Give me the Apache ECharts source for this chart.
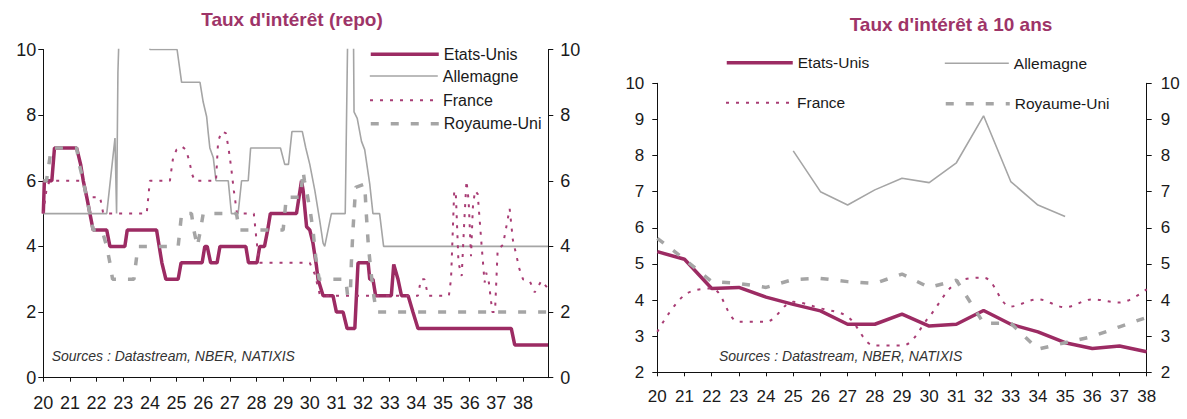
<!DOCTYPE html>
<html><head><meta charset="utf-8">
<script src="https://cdn.jsdelivr.net/npm/echarts@6/dist/echarts.min.js"></script>
<style>html,body{margin:0;padding:0;background:#fff}#c{width:1187px;height:419px}</style>
</head><body><div id="c"></div>
<script>
// ---------- DATA ----------
// Left chart: policy rates (repo), breakpoints [year (20 = 1920), rate %]
const repoUS = [[20.0,5.0],[20.04,6.0],[20.32,6.0],[20.42,7.0],[21.25,7.0],[21.4,6.5],[21.5,6.0],[21.63,5.5],[21.75,5.0],[21.87,4.5],[22.38,4.5],[22.5,4.0],[23.06,4.0],[23.15,4.5],[24.25,4.5],[24.35,4.0],[24.45,3.5],[24.6,3.0],[25.06,3.0],[25.17,3.5],[25.96,3.5],[26.06,4.0],[26.15,4.0],[26.28,3.5],[26.52,3.5],[26.63,4.0],[27.6,4.0],[27.7,3.5],[28.02,3.5],[28.12,4.0],[28.3,4.0],[28.42,4.5],[28.52,5.0],[29.5,5.0],[29.69,6.0],[29.75,5.7],[29.88,4.6],[30.0,4.5],[30.12,4.1],[30.25,3.4],[30.31,3.0],[30.5,2.5],[30.87,2.5],[31.0,2.0],[31.25,2.0],[31.4,1.5],[31.69,1.5],[31.81,3.5],[32.19,3.5],[32.25,3.0],[32.37,3.0],[32.47,2.5],[33.06,2.5],[33.15,3.45],[33.31,3.0],[33.44,2.5],[33.69,2.5],[33.87,2.0],[34.06,1.5],[37.56,1.5],[37.69,1.0],[38.94,1.0]];
const repoDE = [[20.0,5.0],[22.38,5.0],[22.69,7.3],[22.75,5.0],[22.8,9.3],[22.9,12],[23.2,40],[23.8,40],[23.95,12],[24.0,10],[25.02,10],[25.19,9],[25.88,9],[26.0,8.4],[26.13,7.95],[26.19,7.45],[26.25,7.0],[26.38,6.7],[26.48,6.0],[26.94,6.0],[27.06,5.0],[27.31,5.0],[27.44,6.0],[27.69,6.0],[27.78,7.0],[28.9,7.0],[29.06,6.5],[29.2,6.5],[29.33,7.5],[29.72,7.5],[29.85,7.0],[30.0,6.5],[30.19,5.7],[30.37,4.8],[30.5,4.1],[30.56,4.0],[30.81,5.0],[31.33,5.0],[31.5,15],[31.6,15],[31.66,8.1],[31.78,7.9],[31.94,7.2],[32.06,6.95],[32.25,5.9],[32.37,5.0],[32.62,5.0],[32.77,4.0],[38.94,4.0]];
const repoFR = [[20.0,5.0],[20.13,5.8],[20.25,6.0],[21.5,6.0],[21.62,5.5],[22.13,5.5],[22.25,5.0],[23.88,5.0],[24.0,6.0],[24.75,6.0],[24.87,6.7],[25.0,6.95],[25.19,7.05],[25.35,6.95],[25.48,6.6],[25.58,6.2],[25.69,6.0],[26.48,6.0],[26.56,7.2],[26.69,7.5],[26.85,7.45],[26.95,7.0],[27.05,6.4],[27.15,5.7],[27.27,5.0],[27.9,5.0],[28.0,4.2],[28.1,3.5],[30.0,3.5],[30.19,3.15],[30.37,2.55],[30.45,2.5],[34.06,2.5],[34.17,3.0],[34.3,3.0],[34.44,2.5],[35.22,2.5],[35.3,3.0],[35.42,5.7],[35.48,5.6],[35.58,3.5],[35.7,3.1],[35.8,4.8],[35.88,6.0],[35.96,5.4],[36.05,3.7],[36.12,5.2],[36.2,5.7],[36.3,5.6],[36.45,4.0],[36.56,2.9],[36.62,3.2],[36.72,2.9],[36.85,2.0],[36.95,2.0],[37.05,3.9],[37.25,4.05],[37.5,5.15],[37.62,4.2],[37.87,3.3],[38.0,3.0],[38.25,2.95],[38.44,2.6],[38.69,2.95],[38.94,2.72]];
const repoUK = [[20.0,6.0],[20.12,6.0],[20.3,7.0],[21.25,7.0],[21.35,6.5],[21.5,6.0],[21.62,5.5],[21.75,5.0],[21.87,4.5],[22.2,4.5],[22.38,4.0],[22.5,3.5],[22.6,3.0],[23.4,3.0],[23.55,4.0],[25.06,4.0],[25.19,5.0],[25.56,5.0],[25.65,4.5],[25.78,4.0],[25.9,4.5],[26.0,5.0],[27.25,5.0],[27.35,4.5],[29.0,4.5],[29.12,5.5],[29.65,5.5],[29.75,6.3],[29.8,6.0],[29.9,5.6],[30.03,5.0],[30.12,4.5],[30.22,3.7],[30.35,3.0],[31.35,3.0],[31.42,2.5],[31.52,2.5],[31.56,3.5],[31.62,4.5],[31.72,5.8],[32.06,5.9],[32.12,5.0],[32.2,4.0],[32.3,3.2],[32.4,2.5],[32.5,2.0],[38.94,2.0]];

// Right chart: 10-year yields, annual
const years10 = [20,21,22,23,24,25,26,27,28,29,30,31,32,33,34,35,36,37,38];
const bondUS = [5.34,5.13,4.32,4.35,4.08,3.88,3.70,3.33,3.33,3.61,3.28,3.33,3.71,3.33,3.12,2.82,2.66,2.73,2.57];
const bondDE = [null,null,null,null,null,8.13,7.00,6.63,7.05,7.37,7.25,7.80,9.10,7.28,6.63,6.31,null,null,null];
const bondFR = [3.12,4.14,4.32,3.40,3.40,3.95,3.77,3.54,2.74,2.74,3.54,4.48,4.62,3.82,4.02,3.80,4.02,3.93,4.30];
const bondUK = [5.71,5.13,4.51,4.46,4.35,4.57,4.60,4.51,4.46,4.72,4.35,4.55,3.36,3.36,2.64,2.82,2.99,3.26,3.52];

const yTicksLeft = {min:0, max:10, interval:2};
const yTicksRight = {min:2, max:10, interval:1};

// ---------- STYLE ----------
const FONT = '"Liberation Sans", Arial, sans-serif';
const PURPLE = '#9c2b63';
const PURPLE_DOT = '#a83c74';
const GREY = '#a5a5a5';
const TXT = '#1a1a1a';
const AX = '#111';

const zip = (xs, vs) => xs.map((x,i)=>[x, vs[i]]).filter(p => p[1] != null);

const styles = {
  'Etats-Unis': {color:PURPLE, width:3.5, type:'solid'},
  'Allemagne': {color:GREY, width:1.6, type:'solid'},
  'France': {color:PURPLE_DOT, width:2, type:[3,7]},
  'Royaume-Uni': {color:GREY, width:3.5, type:[8,12]}
};

function mkSeries(name, data, xi, yi, extra) {
  const s = styles[name];
  return Object.assign({
    type:'line', name, data, xAxisIndex:xi, yAxisIndex:yi,
    symbol:'none', showSymbol:false, animation:false, silent:true,
    lineStyle:{color:s.color, width:s.width, type:s.type, cap:'butt'},
    itemStyle:{color:s.color}
  }, extra || {});
}

function yAxis(gi, pos, ticks, margin, fs) {
  return Object.assign({
    type:'value', gridIndex:gi, position:pos,
    axisLine:{show:true, onZero:false, lineStyle:{color:AX, width:1}},
    axisTick:{show:true, length:5, lineStyle:{color:AX, width:1}},
    axisLabel:{show:true, margin, fontSize:fs, color:TXT, fontFamily:FONT},
    splitLine:{show:false}
  }, ticks);
}

function legendItem(name, left, yc, w, fs) {
  const s = styles[name];
  return {
    data:[name], left, top: yc - 7, orient:'horizontal', itemWidth:w, itemHeight:14,
    padding:0, itemGap:0, selectedMode:false,
    textStyle:{fontSize:fs, color:TXT, fontFamily:FONT},
    itemStyle:{opacity:0, color:'rgba(0,0,0,0)', borderWidth:0},
    lineStyle:{width:s.width, type:s.type, color:s.color, opacity:1}
  };
}

const chart = echarts.init(document.getElementById('c'), null, {renderer:'svg'});
chart.setOption({
  backgroundColor:'#fff',
  animation:false,
  grid:[
    {left:43.3, top:49.5, width:505, height:328.2, outerBoundsMode:'none', containLabel:false},
    {left:657.3, top:83.3, width:489.4, height:289, outerBoundsMode:'none', containLabel:false}
  ],
  xAxis:[
    {type:'value', gridIndex:0, min:20, max:38.95, interval:1,
     axisLine:{show:true, onZero:false, lineStyle:{color:AX, width:1}},
     axisTick:{show:true, length:4, lineStyle:{color:AX}},
     axisLabel:{margin:16, fontSize:18, color:TXT, fontFamily:FONT, showMaxLabel:false,
       formatter: v => Number.isInteger(v) ? String(v) : ''},
     splitLine:{show:false}},
    {type:'value', gridIndex:1, min:20, max:38, interval:1,
     axisLine:{show:true, onZero:false, lineStyle:{color:AX, width:1}},
     axisTick:{show:true, length:4, lineStyle:{color:AX}},
     axisLabel:{margin:16, fontSize:17, color:TXT, fontFamily:FONT},
     splitLine:{show:false}}
  ],
  yAxis:[
    yAxis(0,'left',yTicksLeft,7,18),
    yAxis(0,'right',yTicksLeft,12,18),
    yAxis(1,'left',yTicksRight,13,17),
    yAxis(1,'right',yTicksRight,14,17)
  ],
  legend:[
    legendItem('Etats-Unis',369,53.3,68,16),
    legendItem('Allemagne',369,75,68,16),
    legendItem('France',369,99.3,68,16),
    legendItem('Royaume-Uni',369,122.7,68,16),
    legendItem('Etats-Unis',725,61.7,66,15.5),
    legendItem('France',725,101.7,66,15.5),
    legendItem('Allemagne',944,62.3,64,15.5),
    legendItem('Royaume-Uni',944,102.7,64,15.5)
  ],
  graphic:[
    {type:'text', x:292, y:19, silent:true, style:{text:"Taux d'intérêt (repo)", fill:'#9e3468', font:'bold 19px '+FONT, align:'center', verticalAlign:'middle'}},
    {type:'text', x:951, y:24, silent:true, style:{text:"Taux d'intérêt à 10 ans", fill:'#9e3468', font:'bold 19px '+FONT, align:'center', verticalAlign:'middle'}},
    {type:'text', x:51.7, y:356, silent:true, style:{text:'Sources : Datastream, NBER, NATIXIS', fill:'#333', font:'italic 14px '+FONT, align:'left', verticalAlign:'middle'}},
    {type:'text', x:719, y:356, silent:true, style:{text:'Sources : Datastream, NBER, NATIXIS', fill:'#333', font:'italic 14px '+FONT, align:'left', verticalAlign:'middle'}}
  ],
  series:[
    mkSeries('Etats-Unis', repoUS, 0, 0),
    mkSeries('Allemagne', repoDE, 0, 0),
    mkSeries('France', repoFR, 0, 0),
    mkSeries('Royaume-Uni', repoUK, 0, 0),
    mkSeries('Etats-Unis', zip(years10, bondUS), 1, 2),
    mkSeries('Allemagne', zip(years10, bondDE), 1, 2),
    mkSeries('France', zip(years10, bondFR), 1, 2, {smooth:0.35}),
    mkSeries('Royaume-Uni', zip(years10, bondUK), 1, 2)
  ]
});
</script></body></html>
